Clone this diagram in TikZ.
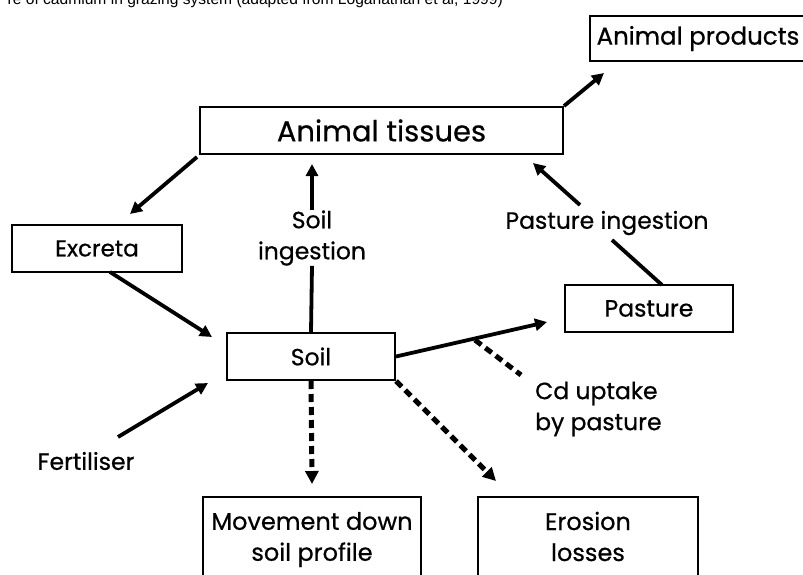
\documentclass[tikz,border=0pt]{standalone}
\usepackage{fontspec}
\setmainfont{Poppins}[FakeBold=0.6]
\newfontfamily\capfont{Liberation Sans}
\usetikzlibrary{arrows.meta}
\begin{document}
\begin{tikzpicture}[x=1pt,y=-1pt,
  boxnode/.style={draw,line width=2pt,inner sep=0pt,align=center},
  lbl/.style={inner sep=0pt,align=center,font=\fontsize{23.5}{31}\selectfont},
  flow/.style={line width=3.8pt,-{Triangle[length=12pt,width=12pt]}},
  plain/.style={line width=3.8pt},
  dflow/.style={line width=5pt,dash pattern=on 8pt off 5pt,-{Triangle[length=13pt,width=13pt]}},
  dplain/.style={line width=5pt,dash pattern=on 8pt off 5pt}]
\useasboundingbox (0,0) rectangle (803,574);
\clip (0,0) rectangle (803,574);
\fill[white] (0,0) rectangle (803,574);
% caption (cut off at the top)
\node[anchor=base east,inner sep=0pt,font=\capfont\fontsize{15.6}{18}\selectfont] (cap) at (503,4.5) {re of cadmium in grazing system (adapted from Loganathan et al, 1999)};
% boxes
\node[boxnode,minimum width=216pt,minimum height=45pt,font=\fontsize{24.5}{28}\selectfont] (products) at (698,38.5) {Animal products};
\node[boxnode,minimum width=363pt,minimum height=47pt,font=\fontsize{29}{32}\selectfont] (tissues) at (381.5,130.5) {Animal tissues};
\node[boxnode,minimum width=170pt,minimum height=47pt,font=\fontsize{23}{26}\selectfont] (excreta) at (97,248.5) {Excreta};
\node[boxnode,minimum width=168pt,minimum height=47pt,font=\fontsize{23.5}{26}\selectfont] (soil) at (311,356.5) {Soil};
\node[boxnode,minimum width=168pt,minimum height=47pt,font=\fontsize{23.5}{26}\selectfont] (pasture) at (649,308.5) {Pasture};
\node[boxnode,minimum width=218pt,minimum height=85pt,font=\fontsize{24}{31}\selectfont] (movement) at (312,539.5) {Movement down\\soil profile};
\node[boxnode,minimum width=220pt,minimum height=85pt,font=\fontsize{24}{31}\selectfont] (erosion) at (588,539.5) {Erosion\\losses\vphantom{p}};
% labels
\node[lbl] (soiling) at (312,238) {Soil\\ingestion};
\node[lbl] (pasting) at (607,223) {Pasture ingestion};
\node[lbl,anchor=west,align=left] (cdup) at (535,409) {Cd uptake\\by pasture};
\node[lbl] (fert) at (86,461) {Fertiliser};
% free ends
\coordinate (tipP) at (604,73);
\coordinate (tissEx) at (197,157);
\coordinate (tipEx) at (130,214);
\coordinate (exOut) at (110,272);
\coordinate (tipSoilA) at (212,337);
\coordinate (fertOut) at (118,437);
\coordinate (tipSoilB) at (208,383);
\coordinate (tipTissA) at (312,164);
\coordinate (tipPast) at (547,322);
\coordinate (cdA) at (475,340);
\coordinate (cdB) at (521,375);
\coordinate (pastTop) at (662,285);
\coordinate (pastLblB) at (612,240);
\coordinate (pastLblT) at (580,205);
\coordinate (tipTissB) at (533,163);
\coordinate (tipMove) at (312,484);
\coordinate (tipEro) at (496,481);
% connectors
\draw[flow] (tissues.north east) -- (tipP);
\draw[flow] (tissEx) -- (tipEx);
\draw[flow] (exOut) -- (tipSoilA);
\draw[flow] (fertOut) -- (tipSoilB);
\draw[plain] (soil.north) -- (soiling.south);
\draw[flow] (soiling.north) -- (tipTissA);
\draw[flow] (soil.east) -- (tipPast);
\draw[dplain] (cdA) -- (cdB);
\draw[plain] (pastTop) -- (pastLblB);
\draw[flow] (pastLblT) -- (tipTissB);
\draw[dflow] (soil.south) -- (tipMove);
\draw[dflow] (soil.south east) -- (tipEro);
\end{tikzpicture}
\end{document}
